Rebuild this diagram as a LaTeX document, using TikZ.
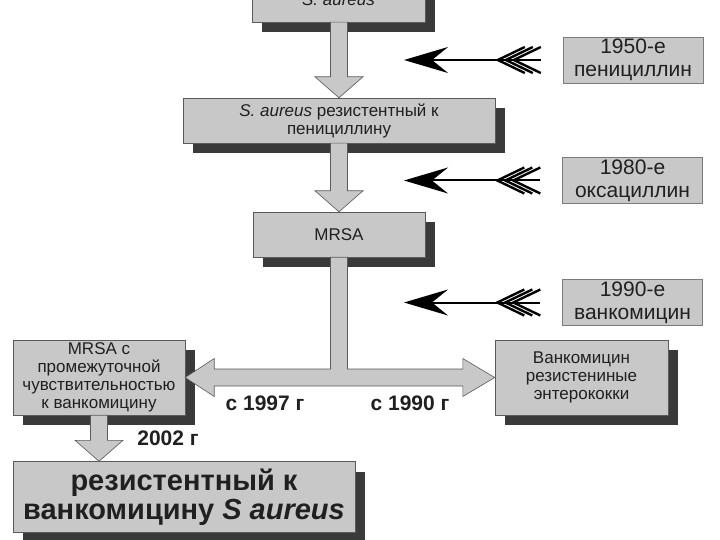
\documentclass[tikz,border=0pt]{standalone}
\usepackage{fontspec}
\setmainfont{Liberation Sans}
\usetikzlibrary{arrows.meta,calc,shadows}
\definecolor{boxfill}{HTML}{C8C8C8}
\definecolor{boxline}{HTML}{5A5A5A}
\definecolor{shade}{HTML}{3A3A3A}
\definecolor{ink}{HTML}{202020}
\tikzset{
  every node/.style={text=ink},
  box/.style={draw=boxline,fill=boxfill,align=center,inner sep=2pt,
    drop shadow={shadow xshift=10pt,shadow yshift=-10pt,fill=shade,opacity=1},
    font=\fontsize{17}{18}\selectfont},
  datebox/.style={draw=boxline!80,fill=boxfill,align=center,inner sep=2pt,
    minimum width=140pt,minimum height=45pt,font=\fontsize{21}{23}\selectfont},
  blockarrow/.style={draw=boxline,fill=boxfill,line width=0.6pt,line join=miter},
  yearlabel/.style={font=\bfseries\fontsize{21}{22}\selectfont},
  shaftline/.style={line width=2pt,draw=black,-{Stealth[length=44pt,width=26pt,inset=16pt]}},
  feather/.style={line width=2.4pt,draw=black},
}
% vertical block arrow: from, to, axis node
\newcommand{\downblock}[3]{%
  \draw[blockarrow] let \p1=(#1.south), \p2=(#2.north), \p3=(#3.center) in
    (\x3-8.5pt,\y1) -- (\x3-8.5pt,\y2+21pt) -- (\x3-24pt,\y2+21pt) -- (\x3,\y2)
    -- (\x3+24pt,\y2+21pt) -- (\x3+8.5pt,\y2+21pt) -- (\x3+8.5pt,\y1) -- cycle;}

\begin{document}
\begin{tikzpicture}[x=1pt,y=-1pt]
\useasboundingbox[fill=white] (0,0) rectangle (720,540);

% main chain
\node[box,minimum width=173pt,minimum height=44pt] (sa) at (338.5,0) {\textit{S. aureus}};
\node[box,minimum width=312pt,minimum height=45pt] (pen) at (339,120.5)
  {\textit{S. aureus} резистентный к\\пенициллину};
\node[box,minimum width=172pt,minimum height=45pt] (mrsa) at (339,234.5) {MRSA};

% branches
\node[box,minimum width=172pt,minimum height=75pt] (visa) at (99,377.5)
  {MRSA с\\промежуточной\\чувствительностью\\к ванкомицину};
\node[box,minimum width=173pt,minimum height=75pt] (vre) at (581.5,377.5)
  {Ванкомицин\\резистениные\\энтерококки};
\node[box,minimum width=342pt,minimum height=71pt,font=\bfseries\fontsize{29}{29}\selectfont] (vrsa) at (184,497)
  {резистентный к\\ванкомицину \textit{S aureus}};

% antibiotics
\node[datebox] (p1950) at (633,60) {1950-е\\пенициллин};
\node[datebox] (p1980) at (632.5,180.5) {1980-е\\оксациллин};
\node[datebox] (p1990) at (632.5,302.5) {1990-е\\ванкомицин};
\coordinate (tip) at (404,0);

% block arrows
\downblock{sa}{pen}{mrsa}
\downblock{pen}{mrsa}{mrsa}
\downblock{visa}{vrsa}{visa}
\draw[blockarrow] let \p1=(mrsa.south), \p2=(visa.east), \p3=(vre.west) in
  (\x1-8.5pt,\y1) -- (\x1-8.5pt,\y2+8.5pt) -- (\x2+29pt,\y2+8.5pt) -- (\x2+29pt,\y2+19pt)
  -- (\x2,\y2) -- (\x2+29pt,\y2-19pt) -- (\x2+29pt,\y2-8.5pt) -- (\x3-32pt,\y2-8.5pt)
  -- (\x3-32pt,\y2-19pt) -- (\x3,\y2) -- (\x3-32pt,\y2+19pt) -- (\x3-32pt,\y2+8.5pt)
  -- (\x1+8.5pt,\y2+8.5pt) -- (\x1+8.5pt,\y1) -- cycle;

\node[yearlabel] (y1997) at (265,403) {с 1997 г};
\node[yearlabel] (y1990) at (410,403) {с 1990 г};
\node[yearlabel] (y2002) at (168,438) {2002 г};

% feathered arrows
\foreach \b in {p1950,p1980,p1990}{
  \draw[shaftline] ([xshift=-22pt]\b.west) -- (tip |- \b.west);
  \foreach \k in {0,1,2}
    \draw[feather] ([shift={(-38+8*\k,-13)}]\b.west) -- ([shift={(-65+8*\k,0)}]\b.west)
      -- ([shift={(-38+8*\k,13)}]\b.west);
}

\end{tikzpicture}
\end{document}
